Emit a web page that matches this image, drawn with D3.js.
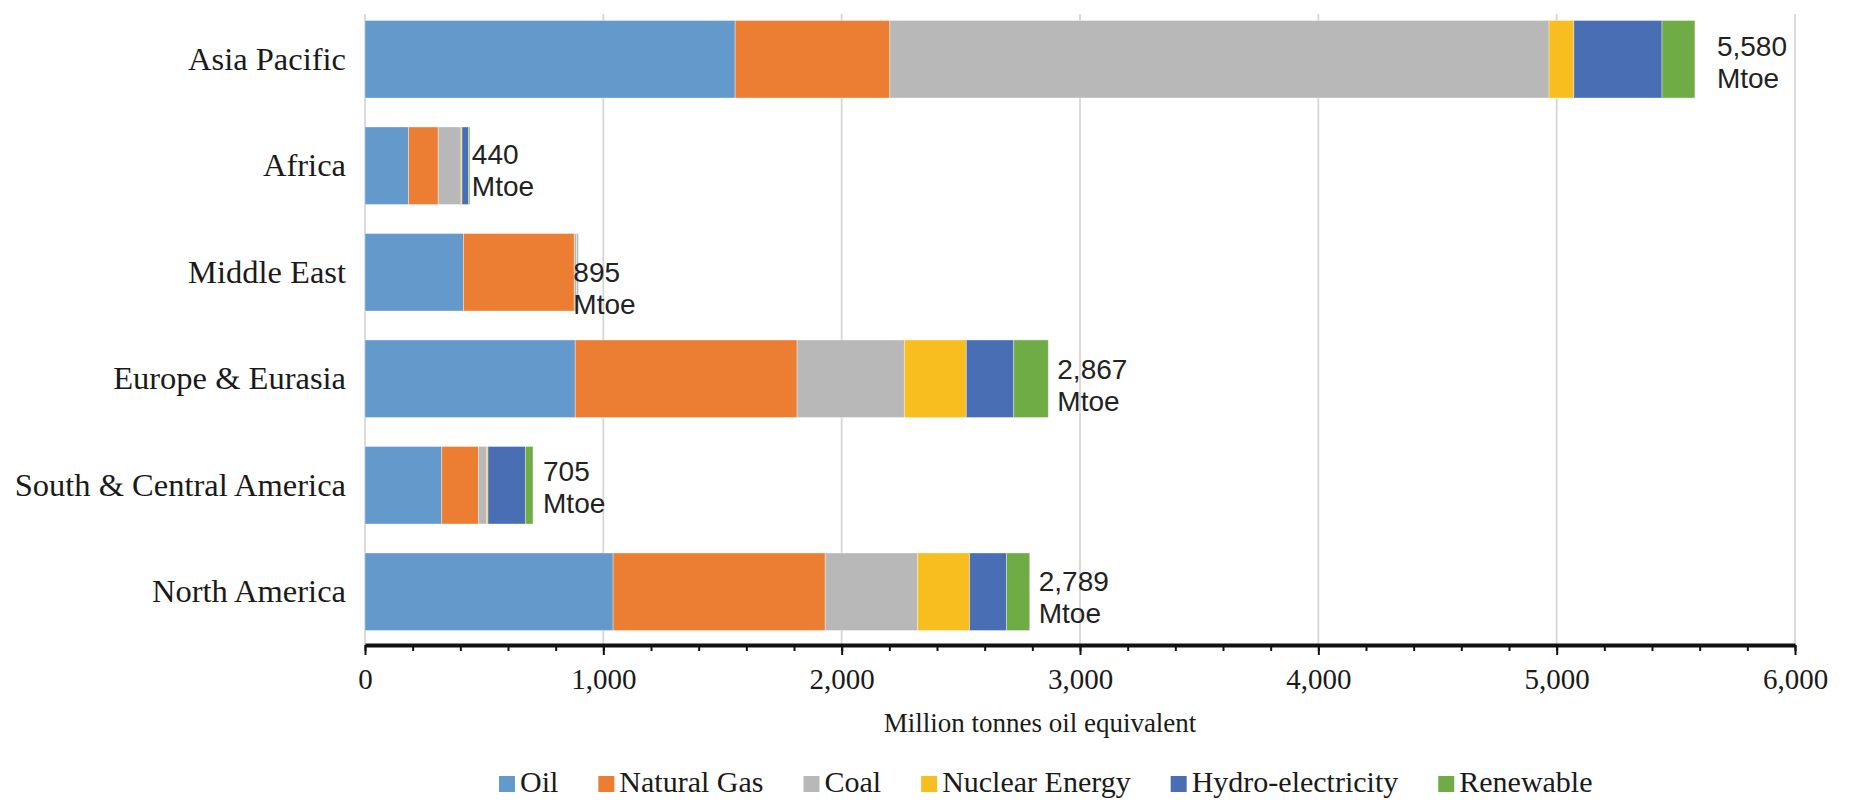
<!DOCTYPE html>
<html>
<head>
<meta charset="utf-8">
<script src="https://cdn.jsdelivr.net/npm/d3@7"></script>
<style>
  html, body { margin: 0; padding: 0; background: #fff; }
  svg { display: block; }
</style>
</head>
<body>
<svg id="chart" width="1849" height="802"></svg>
<script>
// Primary energy consumption by region and fuel (Mtoe)
const regions = ["Asia Pacific", "Africa", "Middle East", "Europe & Eurasia", "South & Central America", "North America"];
const fuels = ["Oil", "Natural Gas", "Coal", "Nuclear Energy", "Hydro-electricity", "Renewable"];

const oil     = [1553, 183, 413,  882, 322, 1041];
const gas     = [ 649, 124, 465,  931, 154,  890];
const coal    = [2766,  96,   9,  450,  35,  388];
const nuclear = [ 104,   4,   2,  260,   5,  218];
const hydro   = [ 370,  27,   4,  199, 157,  155];
const renew   = [ 138,   6,   2,  145,  32,   97];

const xTicks = [0, 1000, 2000, 3000, 4000, 5000, 6000];
const xTitle = "Million tonnes oil equivalent";
const unit = "Mtoe";

// Styling
const colors = ["#6399cb", "#ec7e33", "#b8b8b8", "#f8be20", "#496eb4", "#70ac46"];
const serif = "'Liberation Serif', 'Times New Roman', serif";
const sans = "'Liberation Sans', Arial, sans-serif";
// Per-region nudges for the total labels (dx from bar end, dy of first line from bar centre)
const totalLabelNudge = {
  "Asia Pacific": [22, -3],
  "Africa": [2, -2],
  "Middle East": [-5, 10],
  "Europe & Eurasia": [9, 0],
  "South & Central America": [10, -4],
  "North America": [9, -1]
};

const seriesValues = [oil, gas, coal, nuclear, hydro, renew];
const rows = regions.map((r, i) => {
  const row = { region: r };
  fuels.forEach((f, k) => { row[f] = seriesValues[k][i]; });
  return row;
});

const svg = d3.select("#chart");
const x = d3.scaleLinear().domain([0, 6000]).range([365, 1795]);
const y = d3.scaleBand().domain(regions).range([6, 645]).paddingInner(0.272).paddingOuter(0.136);
const axisY = 645;

// Vertical gridlines
svg.append("g").selectAll("line").data(xTicks).join("line")
  .attr("x1", d => x(d)).attr("x2", d => x(d))
  .attr("y1", 14).attr("y2", axisY)
  .attr("stroke", "#d6d6d6").attr("stroke-width", 1.8);

// Stacked bars
const stacked = d3.stack().keys(fuels)(rows);
const color = d3.scaleOrdinal().domain(fuels).range(colors);
svg.append("g").selectAll("g").data(stacked).join("g")
  .attr("fill", d => color(d.key))
  .selectAll("rect").data(d => d).join("rect")
  .attr("x", d => x(d[0]))
  .attr("y", d => y(d.data.region))
  .attr("width", d => Math.max(0, x(d[1]) - x(d[0])))
  .attr("height", y.bandwidth())
  .attr("stroke", "rgba(255,255,255,0.45)")
  .attr("stroke-width", 0.8);

// Total labels
const fmt = d3.format(",");
const totals = rows.map(r => ({ region: r.region, total: d3.sum(fuels, f => r[f]) }));
const lbl = svg.append("g").selectAll("text").data(totals).join("text")
  .attr("font-family", sans).attr("font-size", 28).attr("fill", "#222")
  .attr("transform", d => {
    const n = totalLabelNudge[d.region];
    return `translate(${x(d.total) + n[0]},${y(d.region) + y.bandwidth() / 2 + n[1]})`;
  });
lbl.append("tspan").attr("x", 0).attr("y", 0).text(d => fmt(d.total));
lbl.append("tspan").attr("x", 0).attr("y", 32).text(unit);

// Region labels
svg.append("g").selectAll("text").data(regions).join("text")
  .attr("x", 346)
  .attr("y", d => y(d) + y.bandwidth() / 2 + 10.5)
  .attr("text-anchor", "end")
  .attr("font-family", serif).attr("font-size", 32.5).attr("fill", "#1a1a1a")
  .text(d => d);

// X axis: minor ticks, then major ticks with labels
const minor = d3.range(0, 6001, 200);
svg.append("g").attr("transform", `translate(0,${axisY})`)
  .call(d3.axisBottom(x).tickValues(minor).tickSize(6).tickSizeOuter(0).tickFormat(""))
  .call(g => g.select(".domain").remove())
  .call(g => g.selectAll(".tick line").attr("stroke", "#111").attr("stroke-width", 2));

const xAxis = svg.append("g").attr("transform", `translate(0,${axisY})`)
  .call(d3.axisBottom(x).tickValues(xTicks).tickSize(10).tickSizeOuter(0).tickPadding(13).tickFormat(fmt));
xAxis.select(".domain").attr("stroke", "#111").attr("stroke-width", 4);
xAxis.selectAll(".tick line").attr("stroke", "#111").attr("stroke-width", 2);
xAxis.selectAll(".tick text").attr("font-family", serif).attr("font-size", 29).attr("fill", "#1a1a1a");

// Axis title
svg.append("text")
  .attr("x", 1040).attr("y", 732)
  .attr("text-anchor", "middle")
  .attr("font-family", serif).attr("font-size", 27).attr("fill", "#1a1a1a")
  .text(xTitle);

// Legend
const legend = svg.append("g").attr("transform", "translate(499,0)");
let cx = 0;
fuels.forEach((f, k) => {
  const item = legend.append("g").attr("transform", `translate(${cx},0)`);
  item.append("rect").attr("x", 0).attr("y", 776).attr("width", 16).attr("height", 16).attr("fill", color(f));
  const t = item.append("text").attr("x", 21).attr("y", 792)
    .attr("font-family", serif).attr("font-size", 30).attr("fill", "#1a1a1a").text(f);
  cx += 21 + t.node().getComputedTextLength() + 40;
});
</script>
</body>
</html>
